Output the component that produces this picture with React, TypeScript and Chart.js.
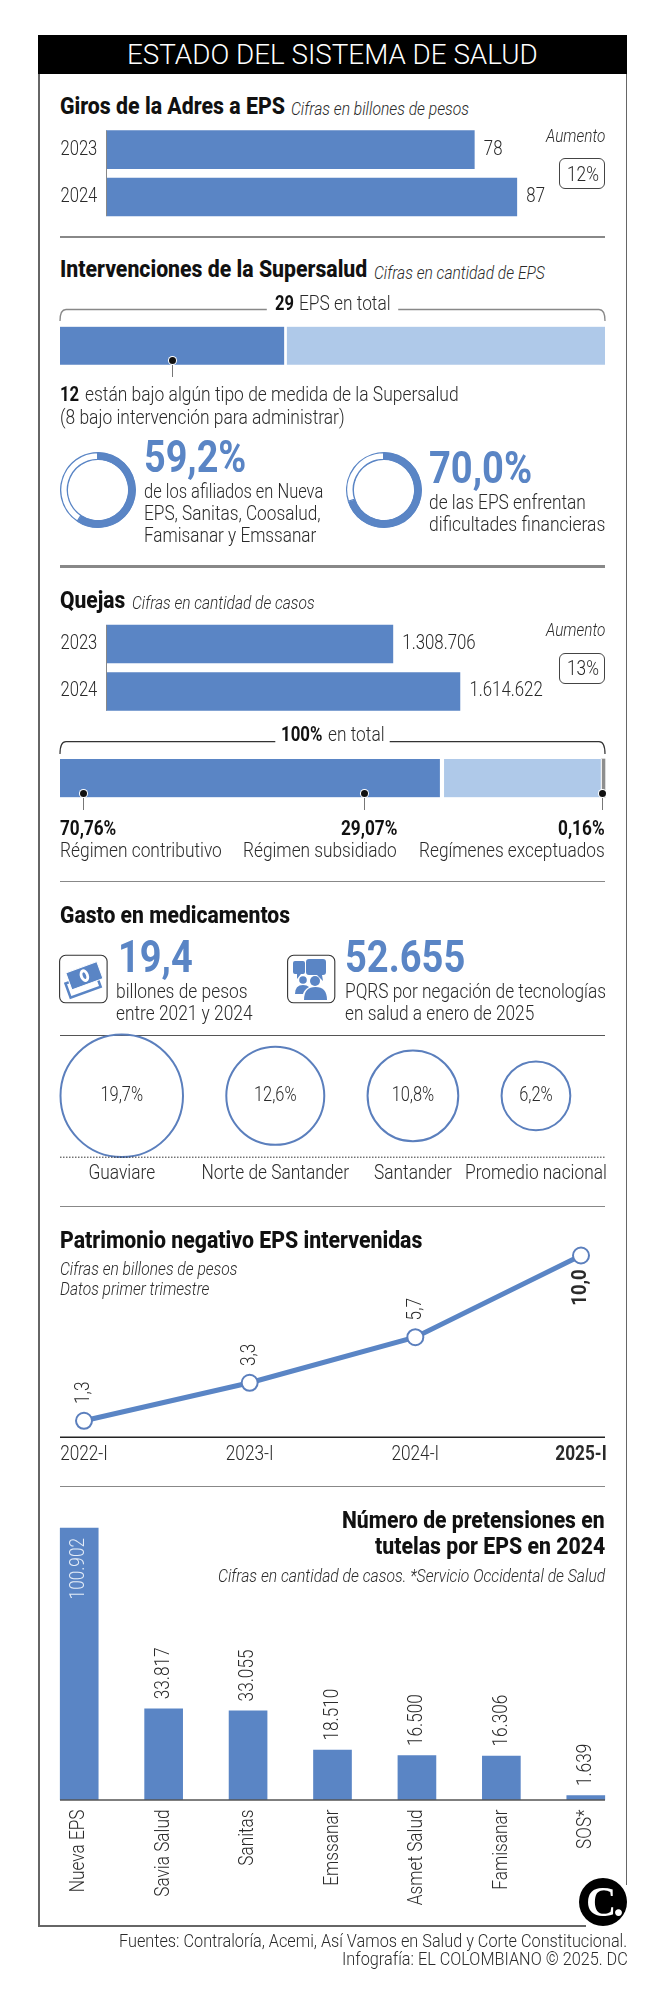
import React, { useEffect, useRef } from "react";
import { Chart, registerables } from "chart.js";
Chart.register(...registerables);

const BLUE = "#5A85C5";
const LIGHT = "#AFC9E9";
const INK = "#2a2a2a";
const FONT = "Roboto";
const K = 0.996;

const years = ["2023", "2024"];
const girosValues = [78, 87];
const quejasValues = [1308706, 1614622];
const quejasLabels = ["1.308.706", "1.614.622"];
const epsParts = [12, 17];
const regimenParts = [70.76, 29.07, 0.16];
const afiliadosShare = [59.2, 40.8];
const financierasShare = [70, 30];
const medNames = ["Guaviare", "Norte de Santander", "Santander", "Promedio nacional"];
const medValues = [19.7, 12.6, 10.8, 6.2];
const medLabels = ["19,7%", "12,6%", "10,8%", "6,2%"];
const patrPeriods = ["2022-I", "2023-I", "2024-I", "2025-I"];
const patrValues = [1.3, 3.3, 5.7, 10.0];
const patrLabels = ["1,3", "3,3", "5,7", "10,0"];
const tutelaNames = ["Nueva EPS", "Savia Salud", "Sanitas", "Emssanar", "Asmet Salud", "Famisanar", "SOS*"];
const tutelaValues = [100902, 33817, 33055, 18510, 16500, 16306, 1639];
const tutelaLabels = ["100.902", "33.817", "33.055", "18.510", "16.500", "16.306", "1.639"];

const measureCtx = document.createElement("canvas").getContext("2d") as CanvasRenderingContext2D;

function ct(ctx: any, s: string, x: number, y: number, o: any = {}) {
  const { size = 19, weight = 300, color = INK, align = "center", rot = false, sx = 0.87 } = o;
  ctx.save();
  ctx.translate(x, y);
  if (rot) ctx.rotate(-Math.PI / 2);
  ctx.scale(sx, 1);
  ctx.font = `${weight} ${size}px ${FONT}`;
  ctx.textAlign = align;
  ctx.textBaseline = "middle";
  ctx.fillStyle = color;
  ctx.fillText(s, 0, 0);
  ctx.restore();
}

function T({ s, x0, x1, y, size = 21, w = 300, it = false, c = INK }: any) {
  measureCtx.font = `${it ? "italic " : ""}${w} ${size}px ${FONT}`;
  const sx = ((x1 - x0) * K) / measureCtx.measureText(s).width;
  return (
    <span
      style={{
        position: "absolute",
        left: x0 * K,
        top: y,
        fontFamily: FONT,
        fontSize: size,
        fontWeight: w,
        fontStyle: it ? "italic" : "normal",
        color: c,
        lineHeight: 1,
        whiteSpace: "pre",
        transformOrigin: "0 0",
        transform: `scaleX(${sx}) translateY(-50%)`,
      }}
    >
      {s}
    </span>
  );
}

function C({ x, y, w, h, config }: any) {
  const ref = useRef<HTMLCanvasElement>(null);
  useEffect(() => {
    const chart = new Chart(ref.current as any, config);
    return () => chart.destroy();
  }, []);
  return <canvas ref={ref} width={w} height={h} style={{ position: "absolute", left: x, top: y, width: w, height: h }} />;
}

const base = (padding: any) => ({
  responsive: false,
  animation: false as const,
  layout: { padding, autoPadding: false },
  plugins: { legend: { display: false }, tooltip: { enabled: false } },
});

function hbar(values: number[], labels: string[], max: number, padding: any) {
  return {
    type: "bar",
    data: { labels: years, datasets: [{ data: values, backgroundColor: BLUE, barThickness: 38 }] },
    options: {
      ...base(padding),
      indexAxis: "y",
      scales: { x: { display: false, min: 0, max }, y: { display: false } },
    },
    plugins: [
      {
        id: "hbarLabels",
        afterDatasetsDraw(chart: any) {
          const { ctx, scales } = chart;
          const x0 = scales.x.getPixelForValue(0);
          ctx.strokeStyle = "#888";
          ctx.lineWidth = 1;
          ctx.beginPath();
          ctx.moveTo(x0 + 0.5, scales.y.getPixelForTick(0) - 19);
          ctx.lineTo(x0 + 0.5, scales.y.getPixelForTick(1) + 19);
          ctx.stroke();
          years.forEach((yr, i) => {
            const py = scales.y.getPixelForTick(i);
            ct(ctx, yr, 20.5, py, { align: "left", size: 20, sx: 0.83 });
            ct(ctx, labels[i], scales.x.getPixelForValue(values[i]) + 9.5, py, { align: "left", size: 20, sx: 0.84 });
          });
        },
      },
    ],
  };
}

function stacked(values: number[], colors: string[], borders: any[], max: number, padding: any, minLen = 0) {
  return {
    type: "bar",
    data: {
      labels: [""],
      datasets: values.map((v, i) => ({
        data: [v],
        backgroundColor: colors[i],
        borderColor: "#fff",
        borderWidth: borders[i],
        borderSkipped: false,
        barPercentage: 1,
        categoryPercentage: 1,
        minBarLength: minLen,
        clip: false,
      })),
    },
    options: {
      ...base(padding),
      indexAxis: "y",
      scales: { x: { display: false, stacked: true, min: 0, max }, y: { display: false, stacked: true } },
    },
  };
}

function ring(values: number[]) {
  return {
    type: "doughnut",
    data: {
      datasets: [
        { data: values, backgroundColor: [BLUE, "#fff"], borderColor: BLUE, borderWidth: 1, borderAlign: "inner" },
      ],
    },
    options: { ...base(0), cutout: "79%" },
  };
}

const medRadius = medValues.map((v) => 13.8 * Math.sqrt(v));
const medX: number[] = [];
medRadius.reduce((cum, r) => {
  medX.push(cum + r);
  return cum + 2 * r + 43.3;
}, 20.5);

const bubbleConfig = {
  type: "bubble",
  data: {
    datasets: [
      {
        data: medValues.map((_, i) => ({ x: medX[i], y: 0.5, r: medRadius[i] })),
        backgroundColor: "rgba(0,0,0,0)",
        borderColor: "#5B7FBD",
        borderWidth: 2,
        clip: false,
      },
    ],
  },
  options: {
    ...base({ top: 5, bottom: 38.3 }),
    scales: { x: { display: false, min: 0, max: 590 }, y: { display: false, min: 0, max: 1 } },
  },
  plugins: [
    {
      id: "medLabels",
      afterDatasetsDraw(chart: any) {
        const { ctx, scales } = chart;
        const bottom = chart.chartArea.bottom;
        ctx.save();
        ctx.strokeStyle = "#333";
        ctx.lineWidth = 1;
        ctx.setLineDash([1.5, 1.5]);
        ctx.beginPath();
        ctx.moveTo(20, bottom + 0.5);
        ctx.lineTo(565, bottom + 0.5);
        ctx.stroke();
        ctx.restore();
        medValues.forEach((_, i) => {
          const px = scales.x.getPixelForValue(medX[i]);
          ct(ctx, medLabels[i], px, scales.y.getPixelForValue(0.5), { size: 20, sx: 0.82 });
          ct(ctx, medNames[i], px, bottom + 17.5, { size: 21, sx: 0.825 });
        });
      },
    },
  ],
};

const lineConfig = {
  type: "line",
  data: {
    labels: patrPeriods,
    datasets: [
      {
        data: patrValues,
        borderColor: BLUE,
        borderWidth: 5,
        pointRadius: 8,
        pointBackgroundColor: "#fff",
        pointBorderColor: "#5B7FBD",
        pointBorderWidth: 2,
        tension: 0,
        clip: false,
      },
    ],
  },
  options: {
    ...base({ left: 44, right: 45, top: 6, bottom: 32.7 }),
    scales: { x: { display: false }, y: { display: false, min: 0.43, max: 10.5 } },
  },
  plugins: [
    {
      id: "patrLabels",
      afterDatasetsDraw(chart: any) {
        const { ctx, scales, chartArea } = chart;
        ctx.save();
        ctx.strokeStyle = "#222";
        ctx.lineWidth = 1.5;
        ctx.beginPath();
        ctx.moveTo(20, chartArea.bottom);
        ctx.lineTo(565, chartArea.bottom);
        ctx.stroke();
        ctx.restore();
        patrValues.forEach((v, i) => {
          const px = scales.x.getPixelForTick(i);
          const py = scales.y.getPixelForValue(v);
          const last = i === patrValues.length - 1;
          ct(ctx, patrPeriods[i], px, chartArea.bottom + 17, { size: 21, weight: last ? 700 : 300, sx: 0.82 });
          if (last) ct(ctx, patrLabels[i], px, py + 32, { size: 21, weight: 700, rot: true, sx: 0.88 });
          else ct(ctx, patrLabels[i], px, py - 28, { size: 21, rot: true, sx: 0.82 });
        });
      },
    },
  ],
};

const tutelaConfig = {
  type: "bar",
  data: { labels: tutelaNames, datasets: [{ data: tutelaValues, backgroundColor: BLUE, barThickness: 38 }] },
  options: {
    ...base({ bottom: 130 }),
    scales: { x: { display: false }, y: { display: false, min: 0, max: 103860 } },
  },
  plugins: [
    {
      id: "tutelaLabels",
      afterDatasetsDraw(chart: any) {
        const { ctx, scales, chartArea } = chart;
        ctx.save();
        ctx.strokeStyle = "#555";
        ctx.lineWidth = 1.5;
        ctx.beginPath();
        ctx.moveTo(23, chartArea.bottom);
        ctx.lineTo(568, chartArea.bottom);
        ctx.stroke();
        ctx.restore();
        tutelaValues.forEach((v, i) => {
          const px = scales.x.getPixelForTick(i);
          const top = scales.y.getPixelForValue(v);
          ct(ctx, tutelaNames[i], px, chartArea.bottom + 9.5, { size: 21, rot: true, align: "right", sx: 0.82 });
          if (i === 0) ct(ctx, tutelaLabels[i], px, top + 10, { size: 21, rot: true, align: "right", sx: 0.82, color: "#E3ECF7" });
          else ct(ctx, tutelaLabels[i], px, top - 9.5, { size: 21, rot: true, align: "left", sx: 0.82 });
        });
      },
    },
  ],
};

function Hr({ y, h = 1.5, c = "#888" }: any) {
  return <div style={{ position: "absolute", left: 60, width: 545, top: y - h / 2, height: h, background: c }} />;
}

function Callout({ x, y0, y1 }: any) {
  return (
    <>
      <div style={{ position: "absolute", left: x - 0.5, width: 1, top: y0, height: y1 - y0, background: "#777" }} />
      <div
        style={{
          position: "absolute",
          left: x - 3.5,
          top: y0 - 3.5,
          width: 7,
          height: 7,
          borderRadius: "50%",
          background: "#111",
          boxShadow: "0 0 0 1px #fff",
        }}
      />
    </>
  );
}

function Badge({ y, s }: any) {
  return (
    <>
      <T s="Aumento" x0={547.8} x1={607.4} y={y - 39} size={19} it />
      <div
        style={{
          position: "absolute",
          left: 559,
          top: y - 15.5,
          width: 46,
          height: 31,
          border: "1.2px solid #444",
          borderRadius: 6,
          boxSizing: "border-box",
        }}
      />
      <T s={s} x0={569} x1={601} y={y} size={20} />
    </>
  );
}

const TITLE = 800;

export default function App() {
  return (
    <div style={{ position: "absolute", left: 0, top: 0, width: 669, height: 2000, background: "#fff", overflow: "hidden" }}>
      <div style={{ position: "absolute", left: 38, top: 34.5, width: 589, height: 39.5, background: "#000" }} />
      <div style={{ position: "absolute", left: 38, top: 74, width: 1.5, height: 1852, background: "#666" }} />
      <div style={{ position: "absolute", left: 625.8, top: 74, width: 1.3, height: 1811, background: "#666" }} />
      <div style={{ position: "absolute", left: 38, top: 1925, width: 548, height: 1.5, background: "#666" }} />
      <T s="ESTADO DEL SISTEMA DE SALUD" x0={127.7} x1={540} y={54.5} size={27} w={300} c="#fff" />

      {/* Giros */}
      <T s="Giros de la Adres a EPS" x0={60.5} x1={286.3} y={106} size={23} w={TITLE} c="#111" />
      <T s="Cifras en billones de pesos" x0={292.3} x1={471} y={108} size={19} it />
      <C x={40} y={120} w={560} h={110} config={hbar(girosValues, ["78", "87"], 102.5, { left: 66, right: 10, top: 6, bottom: 9.3 })} />
      <Badge y={173.5} s="12%" />
      <Hr y={237} h={2} />

      {/* Supersalud */}
      <T s="Intervenciones de la Supersalud" x0={60.5} x1={369} y={269} size={23} w={TITLE} c="#111" />
      <T s="Cifras en cantidad de EPS" x0={376} x1={547.5} y={272} size={19} it />
      <svg width={669} height={2000} style={{ position: "absolute", left: 0, top: 0 }}>
        <path d="M60 321 Q60 309.5 66 309.5 H266.8 M398.2 309.5 H599 Q605 309.5 605 321" fill="none" stroke="#888" strokeWidth={1.3} />
        <path d="M60 754 Q60 741.7 66 741.7 H275.3 M389.7 741.7 H599 Q605 741.7 605 754" fill="none" stroke="#333" strokeWidth={1.2} />
        <rect x={59.6} y={955.3} width={47.5} height={47.5} rx={6} fill="#fff" stroke="#333" strokeWidth={1.1} />
        <rect x={287.6} y={955.3} width={47.2} height={47.5} rx={6} fill="#fff" stroke="#333" strokeWidth={1.1} />
        {/* banknotes */}
        <g transform="rotate(-20 84 979)">
          <rect x={65} y={977} width={32} height={15} fill="#fff" stroke={BLUE} strokeWidth={2.5} />
          <rect x={69} y={967} width={33} height={18} fill={BLUE} stroke="#fff" strokeWidth={1} />
          <ellipse cx={85.5} cy={976} rx={4.5} ry={6.5} fill="#fff" />
          <ellipse cx={85.5} cy={976} rx={1.6} ry={3.5} fill={BLUE} />
        </g>
        {/* people */}
        <path d="M295 961 h8 q2 0 2 2 v9 q0 2 -2 2 h-2 l-4 5 v-5 h-2 q-2 0 -2 -2 v-9 q0 -2 2 -2z" fill={BLUE} />
        <path d="M309 959 h14 q3 0 3 3 v10 q0 3 -3 3 h-1 l1 6 l-6 -6 h-8 q-3 0 -3 -3 v-10 q0 -3 3 -3z" fill={BLUE} />
        <circle cx={303} cy={980} r={3.8} fill={BLUE} />
        <path d="M295 994 q0 -9 8 -9 q4 0 6 2 q-5 3 -6 7z" fill={BLUE} />
        <circle cx={315} cy={981} r={5} fill={BLUE} />
        <path d="M304 1000 q0 -13 11.5 -13 q11.5 0 11.5 13z" fill={BLUE} />
      </svg>
      <T s="29" x0={276} x1={295} y={303} size={20.5} w={700} c="#111" />
      <T s="EPS en total" x0={300} x1={392} y={303} size={20.5} />
      <C x={59} y={326} w={548} h={39} config={stacked(epsParts, [BLUE, LIGHT], [{ right: 1.7 }, { left: 1.7 }], 29, { left: 1, right: 2, top: 0.7, bottom: 0.3 })} />
      <Callout x={172.9} y0={360.7} y1={377} />
      <T s="12" x0={60.5} x1={79.7} y={394} w={700} c="#111" />
      <T s="están bajo algún tipo de medida de la Supersalud" x0={84.9} x1={460} y={394} />
      <T s="(8 bajo intervención para administrar)" x0={60.5} x1={346.3} y={417} />

      <C x={60} y={452} w={76} h={76} config={ring(afiliadosShare)} />
      <T s="59,2%" x0={145} x1={247.7} y={456} size={45} w={700} c={BLUE} />
      <T s="de los afiliados en Nueva" x0={145} x1={325} y={491} />
      <T s="EPS, Sanitas, Coosalud," x0={145} x1={322.3} y={513} />
      <T s="Famisanar y Emssanar" x0={145} x1={318} y={535} />
      <C x={346} y={452} w={76} h={76} config={ring(financierasShare)} />
      <T s="70,0%" x0={431} x1={534.5} y={467} size={45} w={700} c={BLUE} />
      <T s="de las EPS enfrentan" x0={431} x1={588.5} y={502} />
      <T s="dificultades financieras" x0={431} x1={608} y={524} />
      <Hr y={566.7} h={2.5} />

      {/* Quejas */}
      <T s="Quejas" x0={60.5} x1={126} y={600} size={23} w={TITLE} c="#111" />
      <T s="Cifras en cantidad de casos" x0={133} x1={316.3} y={602} size={19} it />
      <C x={40} y={615} w={560} h={110} config={hbar(quejasValues, quejasLabels, 2208000, { left: 66, right: 10, top: 5.3, bottom: 9.8 })} />
      <Badge y={668} s="13%" />
      <T s="100%" x0={282} x1={323.6} y={734} size={20.5} w={700} c="#111" />
      <T s="en total" x0={329} x1={385.8} y={734} size={20.5} />
      <C x={59} y={758} w={548} h={40} config={stacked(regimenParts, [BLUE, LIGHT, "#8E8E8E"], [{ right: 4.3 }, { right: 1.1 }, 0], 100, { left: 1, right: 4.5, top: 1, bottom: 0.7 }, 3.4)} />
      <Callout x={83.7} y0={793.3} y1={810} />
      <Callout x={364} y0={793.3} y1={810} />
      <Callout x={602.6} y0={793.3} y1={810} />
      <T s="70,76%" x0={60.5} x1={117} y={827.5} w={700} c="#111" />
      <T s="29,07%" x0={342} x1={398.6} y={827.5} w={700} c="#111" />
      <T s="0,16%" x0={560.6} x1={607.4} y={827.5} w={700} c="#111" />
      <T s="Régimen contributivo" x0={60.5} x1={223} y={849.5} />
      <T s="Régimen subsidiado" x0={244.3} x1={398.6} y={849.5} />
      <T s="Regímenes exceptuados" x0={421} x1={607.4} y={849.5} />
      <Hr y={881.7} />

      {/* Gasto */}
      <T s="Gasto en medicamentos" x0={60.5} x1={291.5} y={915} size={23} w={TITLE} c="#111" />
      <T s="19,4" x0={118} x1={193} y={956} size={45} w={700} c={BLUE} />
      <T s="52.655" x0={346.3} x1={467} y={956} size={45} w={700} c={BLUE} />
      <T s="billones de pesos" x0={116.6} x1={248.6} y={991} />
      <T s="entre 2021 y 2024" x0={116.6} x1={253.7} y={1013} />
      <T s="PQRS por negación de tecnologías" x0={346} x1={608} y={991} />
      <T s="en salud a enero de 2025" x0={346} x1={536} y={1013} />
      <Hr y={1035.7} h={1.3} c="#555" />
      <C x={40} y={1030} w={590} h={165} config={bubbleConfig} />
      <Hr y={1206.7} />

      {/* Patrimonio */}
      <T s="Patrimonio negativo EPS intervenidas" x0={60.5} x1={424.3} y={1240} size={24} w={TITLE} c="#111" />
      <T s="Cifras en billones de pesos" x0={60.5} x1={238.7} y={1268} size={19} it />
      <T s="Datos primer trimestre" x0={60.5} x1={210.5} y={1288} size={19} it />
      <C x={40} y={1240} w={586} h={230} config={lineConfig} />
      <Hr y={1486.7} />

      {/* Tutelas */}
      <C x={37} y={1520} w={591} h={410} config={tutelaConfig} />
      <T s="Número de pretensiones en" x0={343.8} x1={607.4} y={1520} size={24.5} w={TITLE} c="#111" />
      <T s="tutelas por EPS en 2024" x0={376.3} x1={607.4} y={1546} size={24.5} w={TITLE} c="#111" />
      <T s="Cifras en cantidad de casos. *Servicio Occidental de Salud" x0={218.6} x1={607.4} y={1575} size={19} it />

      {/* Logo */}
      <div style={{ position: "absolute", left: 578.5, top: 1877.7, width: 48, height: 48, borderRadius: "50%", background: "#000" }} />
      <span
        style={{
          position: "absolute",
          left: 586,
          top: 1880,
          fontFamily: "Liberation Serif",
          fontWeight: 700,
          fontSize: 42,
          lineHeight: "44px",
          color: "#fff",
          letterSpacing: -3,
        }}
      >
        C.
      </span>

      <T s="Fuentes: Contraloría, Acemi, Así Vamos en Salud y Corte Constitucional." x0={119} x1={629.2} y={1942} size={17.5} />
      <T s="Infografía: EL COLOMBIANO © 2025. DC" x0={343} x1={630} y={1960} size={17.5} />
    </div>
  );
}
